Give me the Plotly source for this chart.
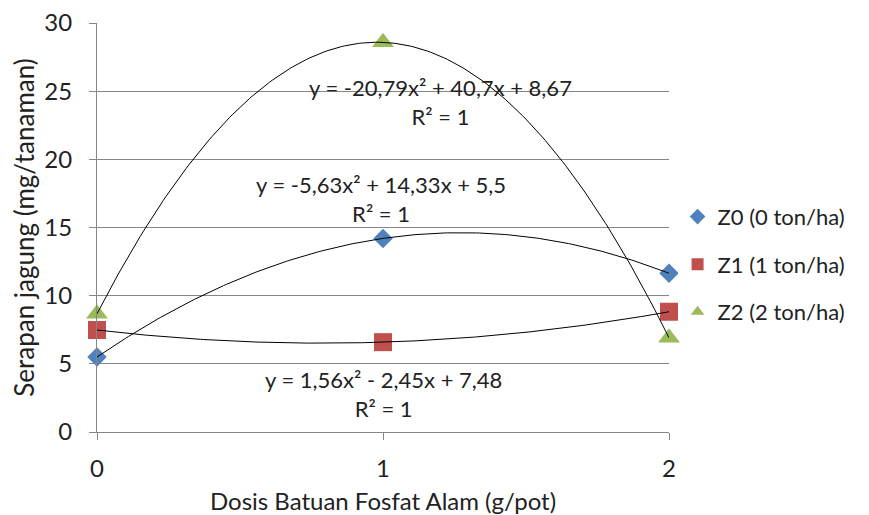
import numpy as np
import plotly.graph_objects as go

dose = [0, 1, 2]
z0 = [5.5, 14.2, 11.64]
z1 = [7.48, 6.59, 8.82]
z2 = [8.67, 28.58, 6.91]

names = ["Z0 (0 ton/ha)", "Z1 (1 ton/ha)", "Z2 (2 ton/ha)"]
colors = ["#4F81BD", "#C0504D", "#9BBB59"]
symbols = ["diamond", "square", "triangle-up"]
sizes = [15, 18, 19]
series = [z0, z1, z2]

eq_texts = [
    "y = -5,63x² + 14,33x + 5,5<br>R² = 1",
    "y = 1,56x² - 2,45x + 7,48<br>R² = 1",
    "y = -20,79x² + 40,7x + 8,67<br>R² = 1",
]
eq_pos = [(0.993, 17.06), (1.0, 2.79), (1.2, 24.2)]

fig = go.Figure()
for i, (name, ys, col, sym, sz) in enumerate(zip(names, series, colors, symbols, sizes)):
    fig.add_trace(go.Scatter(x=dose, y=ys, mode="markers", name=name,
                             legendgroup="g%d" % i,
                             marker=dict(color=col, symbol=sym, size=sz, line=dict(width=0)),
                             cliponaxis=False))
xs = np.linspace(0, 2, 200)
for ys in series:
    c = np.polyfit(dose, ys, 2)
    fig.add_trace(go.Scatter(x=xs, y=np.polyval(c, xs), mode="lines",
                             line=dict(color="black", width=1),
                             showlegend=False, hoverinfo="skip", cliponaxis=False))

for txt, (ax, ay) in zip(eq_texts, eq_pos):
    fig.add_annotation(x=ax, y=ay, text=txt, showarrow=False, xanchor="center",
                       yanchor="middle", font=dict(size=22, color="#222"))

font = "Lato, Open Sans, sans-serif"
fig.update_layout(
    width=869, height=515,
    margin=dict(l=97, r=200, t=23, b=83),
    paper_bgcolor="white", plot_bgcolor="white",
    font=dict(family=font, color="#222"),
    legend=dict(x=1.015, y=0.41, xanchor="left", yanchor="middle",
                font=dict(size=22), itemsizing="constant", tracegroupgap=16,
                traceorder="grouped", itemwidth=30),
    xaxis=dict(range=[0, 2], tickvals=[0, 1, 2], ticks="outside", ticklen=7,
               tickcolor="#868686", showline=True, linecolor="#868686",
               showgrid=False, zeroline=False, tickfont=dict(size=24),
               ticklabelstandoff=8, automargin=False,
               title=dict(text="Dosis Batuan Fosfat Alam (g/pot)", font=dict(size=24), standoff=16)),
    yaxis=dict(range=[0, 30], tickvals=[0, 5, 10, 15, 20, 25, 30], ticks="outside",
               ticklen=7, tickcolor="#868686", showline=True, linecolor="#868686",
               showgrid=True, gridcolor="#868686", gridwidth=1, zeroline=False,
               tickfont=dict(size=24), ticklabelstandoff=12, automargin=False,
               title=dict(text="Serapan jagung (mg/tanaman)", font=dict(size=26), standoff=2)),
)
fig.write_html("out.html")
